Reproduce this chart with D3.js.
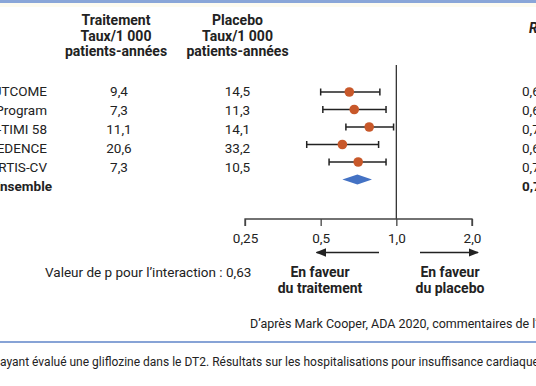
<!DOCTYPE html>
<html>
<head>
<meta charset="utf-8">
<script src="https://cdn.jsdelivr.net/npm/d3@7"></script>
<style>
  body { margin: 0; background: #fff; }
  svg { display: block; font-family: Roboto, "Noto Sans", sans-serif; }
</style>
</head>
<body>
<script>
// study labels, rates per 1000 patient-years, HR with CI
var studies   = ["EMPA-REG OUTCOME", "CANVAS Program", "DECLARE-TIMI 58", "CREDENCE", "VERTIS-CV"];
var treatRate = ["9,4", "7,3", "11,1", "20,6", "7,3"];
var placRate  = ["14,5", "11,3", "14,1", "33,2", "10,5"];
var hr        = [0.65, 0.68, 0.78, 0.61, 0.705];
var hrLow     = [0.50, 0.51, 0.63, 0.44, 0.54];
var hrHigh    = [0.86, 0.91, 0.975, 0.85, 0.91];
var hrText    = ["0,65 (0,50-0,85)", "0,67 (0,52-0,87)", "0,73 (0,61-0,88)", "0,61 (0,47-0,80)", "0,70 (0,54-0,90)"];
var overall   = { label: "Ensemble", hr: 0.70, low: 0.61, high: 0.80, text: "0,70 (0,62-0,78)" };
var ticks     = [0.25, 0.5, 1, 2];
var tickLabels = ["0,25", "0,5", "1,0", "2,0"];

var width = 536, height = 386;

var svg = d3.select("body").append("svg")
  .attr("width", width)
  .attr("height", height);

// top band
svg.append("rect").attr("x", 0).attr("y", 0).attr("width", width).attr("height", 3).attr("fill", "#8aa6d8");
svg.append("rect").attr("x", 0).attr("y", 3).attr("width", width).attr("height", 4).attr("fill", "#fdfbf0");

var x = d3.scaleLog().base(2).domain([0.25, 2]).range([245, 472]);

// text rows and plot rows are not quite aligned in the original
var rowsText = d3.scalePoint().domain(d3.range(6)).range([91, 186]);
var rowsPlot = d3.scalePoint().domain(d3.range(6)).range([92, 179.5]);

var ink = "#222";
var fs = 13.5;

// column headers
var hdr = svg.append("g").attr("font-weight", "bold").attr("font-size", 14).attr("fill", ink).attr("text-anchor", "middle");
[["Traitement", "Taux/1 000", "patients-années", 116],
 ["Placebo", "Taux/1 000", "patients-années", 237.5]].forEach(function (h) {
  h.slice(0, 3).forEach(function (t, i) {
    hdr.append("text").attr("x", h[3]).attr("y", 25 + i * 15.5).text(t);
  });
});
svg.append("text").attr("x", 529).attr("y", 33).attr("font-weight", "bold").attr("font-style", "italic")
  .attr("font-size", 14).attr("fill", ink).text("RR (IC 95 %)");

// rows of text
var rows = svg.append("g").attr("font-size", fs).attr("fill", ink);
studies.forEach(function (s, i) {
  var y = rowsText(i) + 5;
  rows.append("text").attr("x", 47).attr("y", y).attr("text-anchor", "end").text(s);
  rows.append("text").attr("x", 119).attr("y", y).attr("text-anchor", "middle").text(treatRate[i]);
  rows.append("text").attr("x", 237.5).attr("y", y).attr("text-anchor", "middle").text(placRate[i]);
  rows.append("text").attr("x", 522).attr("y", y).text(hrText[i]);
});
rows.append("text").attr("x", 52).attr("y", rowsText(5) + 5).attr("text-anchor", "end")
  .attr("font-weight", "bold").text(overall.label);
rows.append("text").attr("x", 522).attr("y", rowsText(5) + 5)
  .attr("font-weight", "bold").text(overall.text);

// null line
svg.append("line").attr("x1", x(1)).attr("x2", x(1)).attr("y1", 65).attr("y2", 219)
  .attr("stroke", "#333").attr("stroke-width", 1.3);

// axis
var axis = d3.axisBottom(x).tickValues(ticks).tickSize(-7)
  .tickFormat(function (d, i) { return tickLabels[i]; });
var ax = svg.append("g").attr("transform", "translate(0,219)").call(axis);
ax.select(".domain").attr("stroke", "#444").attr("stroke-width", 1.3).attr("d", "M" + x(0.25) + ",7V0H" + x(2) + "V7");
ax.selectAll(".tick line").attr("stroke", "#444").attr("stroke-width", 1.3).attr("y1", 0).attr("y2", 7);
ax.selectAll(".tick text").attr("font-size", fs).attr("fill", ink).attr("font-family", "Roboto, sans-serif").attr("y", 14);

// CI bars
var plot = svg.append("g");
studies.forEach(function (s, i) {
  var y = rowsPlot(i);
  plot.append("line").attr("x1", x(hrLow[i])).attr("x2", x(hrHigh[i])).attr("y1", y).attr("y2", y)
    .attr("stroke", "#222").attr("stroke-width", 1.5);
  [hrLow[i], hrHigh[i]].forEach(function (v) {
    plot.append("line").attr("x1", x(v)).attr("x2", x(v)).attr("y1", y - 3.5).attr("y2", y + 3.5)
      .attr("stroke", "#222").attr("stroke-width", 1.5);
  });
  plot.append("circle").attr("cx", x(hr[i])).attr("cy", y).attr("r", 4.8).attr("fill", "#c8582a");
});
var yd = rowsPlot(5);
plot.append("path")
  .attr("d", "M" + x(overall.low) + "," + yd + "L" + x(overall.hr) + "," + (yd - 5) +
             "L" + x(overall.high) + "," + yd + "L" + x(overall.hr) + "," + (yd + 5) + "Z")
  .attr("fill", "#4472c4");

// arrows
var defs = svg.append("defs");
defs.append("marker").attr("id", "arr").attr("viewBox", "0 0 10 10").attr("refX", 9).attr("refY", 5)
  .attr("markerWidth", 7).attr("markerHeight", 7).attr("orient", "auto-start-reverse")
  .append("path").attr("d", "M0,1L10,5L0,9Z").attr("fill", "#222");
svg.append("line").attr("x1", 379).attr("x2", x(0.5) - 4).attr("y1", 252.5).attr("y2", 252.5)
  .attr("stroke", "#222").attr("stroke-width", 1.5).attr("marker-end", "url(#arr)");
svg.append("line").attr("x1", 420).attr("x2", 478).attr("y1", 252.5).attr("y2", 252.5)
  .attr("stroke", "#222").attr("stroke-width", 1.5).attr("marker-end", "url(#arr)");

var fav = svg.append("g").attr("font-weight", "bold").attr("font-size", 14).attr("fill", ink).attr("text-anchor", "middle");
fav.append("text").attr("x", 320).attr("y", 277).text("En faveur");
fav.append("text").attr("x", 320).attr("y", 293).text("du traitement");
fav.append("text").attr("x", 450).attr("y", 277).text("En faveur");
fav.append("text").attr("x", 450).attr("y", 293).text("du placebo");

svg.append("text").attr("x", 45).attr("y", 277).attr("font-size", fs).attr("fill", ink)
  .text("Valeur de p pour l\u2019interaction : 0,63");

svg.append("text").attr("x", 250).attr("y", 328).attr("font-size", 12.5).attr("fill", ink)
  .text("D\u2019après Mark Cooper, ADA 2020, commentaires de l\u2019auteur");

svg.append("rect").attr("x", 0).attr("y", 341).attr("width", width).attr("height", 2).attr("fill", "#87a3d6");

svg.append("text").attr("x", 0).attr("y", 366).attr("font-size", 12).attr("fill", ink)
  .text("ayant évalué une gliflozine dans le DT2. Résultats sur les hospitalisations pour insuffisance cardiaque.");
</script>
</body>
</html>
